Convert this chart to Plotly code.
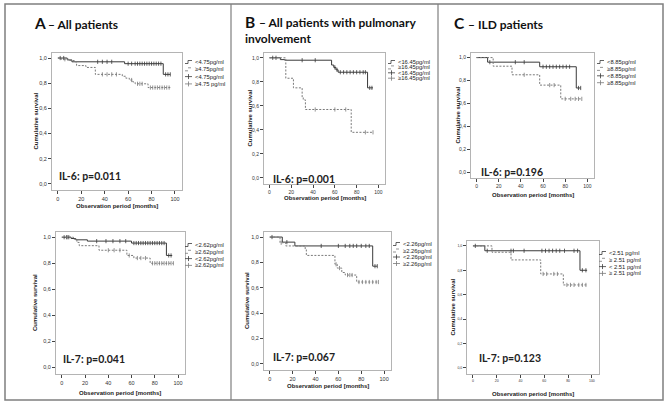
import plotly.graph_objects as go

W, H = 668, 407

# ---- Kaplan-Meier curves (time in months, cumulative survival) ----
# A: all patients, IL-6 (cut-off 4.75 pg/ml)
a6_lo_t = [0, 8, 12, 57, 90, 96]
a6_lo_s = [1.0, 0.985, 0.97, 0.955, 0.87, 0.87]
a6_lo_cens = [2, 5, 34, 38, 42, 46, 60, 63, 66, 68, 70, 72, 74, 76, 78, 80, 82, 84, 86, 88, 92, 94, 96]
a6_hi_t = [0, 3, 10, 14, 16, 24, 32, 55, 58, 61, 64, 66, 77, 96]
a6_hi_s = [1.0, 0.99, 0.98, 0.97, 0.94, 0.925, 0.87, 0.855, 0.84, 0.825, 0.81, 0.795, 0.765, 0.765]
a6_hi_cens = [6, 38, 42, 46, 50, 63, 68, 70, 72, 79, 81, 83, 85, 87, 89, 91, 93, 95]

# A: all patients, IL-7 (cut-off 2.62 pg/ml)
a7_lo_t = [0, 8, 12, 22, 60, 90, 95]
a7_lo_s = [1.0, 0.99, 0.98, 0.97, 0.955, 0.86, 0.86]
a7_lo_cens = [2, 4, 6, 30, 38, 44, 50, 55, 62, 64, 66, 68, 70, 72, 74, 76, 78, 80, 82, 84, 86, 88, 92, 94]
a7_hi_t = [0, 10, 13, 15, 32, 56, 62, 76, 96]
a7_hi_s = [1.0, 0.985, 0.96, 0.935, 0.90, 0.86, 0.84, 0.80, 0.80]
a7_hi_cens = [5, 40, 45, 50, 58, 65, 68, 72, 78, 80, 82, 84, 86, 88, 90, 92, 94, 96]

# B: pulmonary involvement, IL-6 (cut-off 16.45 pg/ml)
b6_lo_t = [0, 10, 14, 57, 59, 61, 63, 90, 95]
b6_lo_s = [1.0, 0.985, 0.98, 0.94, 0.92, 0.90, 0.88, 0.75, 0.75]
b6_lo_cens = [3, 6, 30, 42, 60, 62, 65, 68, 71, 74, 77, 80, 83, 86, 88, 92, 94]
b6_hi_t = [0, 15, 22, 30, 31, 33, 75, 95]
b6_hi_s = [1.0, 0.83, 0.75, 0.67, 0.65, 0.57, 0.38, 0.38]
b6_hi_cens = [42, 60, 70, 88, 95]

# B: pulmonary involvement, IL-7 (cut-off 2.26 pg/ml)
b7_lo_t = [0, 11, 22, 90, 94]
b7_lo_s = [1.0, 0.96, 0.93, 0.77, 0.77]
b7_lo_cens = [2, 15, 45, 60, 66, 70, 73, 76, 80, 84, 87, 92, 94]
b7_hi_t = [0, 9, 14, 31, 32, 57, 59, 63, 66, 76, 95]
b7_hi_s = [1.0, 0.955, 0.93, 0.90, 0.855, 0.785, 0.755, 0.72, 0.70, 0.645, 0.645]
b7_hi_cens = [10, 58, 61, 68, 70, 72, 78, 81, 84, 87, 90, 93, 95]

# C: ILD patients, IL-6 (cut-off 8.85 pg/ml)
c6_lo_t = [0, 10, 57, 90, 94]
c6_lo_s = [1.0, 0.96, 0.92, 0.735, 0.735]
c6_lo_cens = [12, 35, 43, 60, 63, 66, 69, 72, 75, 78, 81, 84, 92, 94]
c6_hi_t = [0, 15, 32, 57, 76, 95]
c6_hi_s = [1.0, 0.925, 0.85, 0.76, 0.64, 0.64]
c6_hi_cens = [43, 66, 70, 80, 85, 89, 92, 95]

# C: ILD patients, IL-7 (cut-off 2.51 pg/ml)
c7_lo_t = [0, 10, 90, 96]
c7_lo_s = [1.0, 0.96, 0.80, 0.80]
c7_lo_cens = [2, 12, 32, 34, 43, 58, 61, 64, 67, 70, 73, 77, 85, 88, 92, 95]
c7_hi_t = [0, 16, 32, 57, 76, 96]
c7_hi_s = [1.0, 0.948, 0.885, 0.77, 0.68, 0.68]
c7_hi_cens = [59, 62, 68, 71, 79, 82, 85, 89, 92, 95]

# legend labels
a6_labels = ["&lt;4.75pg/ml", "\u22654.75pg/ml", "&lt;4.75pg/ml", "\u22654.75 pg/ml"]
a7_labels = ["&lt;2.62pg/ml", "\u22652.62pg/ml", "&lt;2.62pg/ml", "\u22652.62pg/ml"]
b6_labels = ["&lt;16.45pg/ml", "\u226516.45pg/ml", "&lt;16.45pg/ml", "\u226516.45pg/ml"]
b7_labels = ["&lt;2.26pg/ml", "\u22652.26pg/ml", "&lt;2.26pg/ml", "\u22652.26pg/ml"]
c6_labels = ["&lt;8.85pg/ml", "\u22658.85pg/ml", "&lt;8.85pg/ml", "\u22658.85pg/ml"]
c7_labels = ["&lt;2.51 pg/ml", "\u2265 2.51 pg/ml", "&lt; 2.51 pg/ml", "\u2265 2.51 pg/ml"]

p_texts = ["IL-6: p=0.011", "IL-7: p=0.041", "IL-6: p=0.001",
           "IL-7: p=0.067", "IL-6: p=0.196", "IL-7: p=0.123"]

x_ticks = [0, 20, 40, 60, 80, 100]
y_ticks = [0, 0.2, 0.4, 0.6, 0.8, 1.0]
y_ticktext = ["0,0", "0,2", "0,4", "0,6", "0,8", "1,0"]

# panel geometry in pixels: plot box, legend, p-text, axis titles
panels = [
    dict(curves=(a6_lo_t, a6_lo_s, a6_lo_cens, a6_hi_t, a6_hi_s, a6_hi_cens), labels=a6_labels,
         box=(52, 53, 182, 190), leg=(185, 62, 7.3), ptxt=(57, 176), ytit=35, xtit=(117, 206), tick=5.5),
    dict(curves=(a7_lo_t, a7_lo_s, a7_lo_cens, a7_hi_t, a7_hi_s, a7_hi_cens), labels=a7_labels,
         box=(56, 232, 185, 374), leg=(185, 245, 6.8), ptxt=(61, 359), ytit=35, xtit=(120, 393), tick=5.5),
    dict(curves=(b6_lo_t, b6_lo_s, b6_lo_cens, b6_hi_t, b6_hi_s, b6_hi_cens), labels=b6_labels,
         box=(264, 53, 385, 184), leg=(388, 62, 5.4), ptxt=(271, 179), ytit=249, xtit=(325, 198), tick=5),
    dict(curves=(b7_lo_t, b7_lo_s, b7_lo_cens, b7_hi_t, b7_hi_s, b7_hi_cens), labels=b7_labels,
         box=(264, 232, 391, 370), leg=(393, 244, 6.5), ptxt=(271, 357), ytit=247, xtit=(328, 386), tick=5.5),
    dict(curves=(c6_lo_t, c6_lo_s, c6_lo_cens, c6_hi_t, c6_hi_s, c6_hi_cens), labels=c6_labels,
         box=(471, 53, 594, 178), leg=(597, 62, 6.9), ptxt=(479, 172), ytit=457, xtit=(533, 195), tick=5),
    dict(curves=(c7_lo_t, c7_lo_s, c7_lo_cens, c7_hi_t, c7_hi_s, c7_hi_cens), labels=c7_labels,
         box=(467, 241, 599, 374), leg=(599, 253, 6.8), ptxt=(477, 358), ytit=452, xtit=(533, 394), tick=3.5),
]

X_RANGE = [-5, 106]
Y_RANGE = [-0.05, 1.04]
SOLID = "#3a3a3a"
DASHED = "#7a7a7a"


def px(x):
    return x / W


def py(y):
    return 1 - y / H


def surv_at(ts, ss, c):
    v = ss[0]
    for t, s in zip(ts, ss):
        if t <= c:
            v = s
    return v


def note(x, y, text, size, family="Arial", xanchor="left", angle=0, color="#222"):
    return dict(x=px(x), y=py(y), xref="paper", yref="paper", text=text, showarrow=False,
                xanchor=xanchor, yanchor="middle", textangle=angle,
                font=dict(family=family, size=size, color=color))


fig = go.Figure()
shapes = []
annotations = []
layout_axes = {}

for i, p in enumerate(panels):
    n = "" if i == 0 else str(i + 1)
    xa, ya = "x" + n, "y" + n
    lo_t, lo_s, lo_c, hi_t, hi_s, hi_c = p["curves"]
    for ts, ss, cs, col, dash in [(lo_t, lo_s, lo_c, SOLID, "solid"),
                                  (hi_t, hi_s, hi_c, DASHED, "2px,1.5px")]:
        fig.add_trace(go.Scatter(x=ts, y=ss, mode="lines", line=dict(color=col, width=1, dash=dash, shape="hv"),
                                 xaxis=xa, yaxis=ya, showlegend=False, hoverinfo="skip"))
        fig.add_trace(go.Scatter(x=cs, y=[surv_at(ts, ss, c) for c in cs], mode="markers",
                                 marker=dict(symbol="line-ns", size=3, line=dict(color=col, width=0.8)),
                                 xaxis=xa, yaxis=ya, showlegend=False, hoverinfo="skip"))

    l, t, r, b = p["box"]
    axstyle = dict(showline=True, mirror=True, linecolor="#b4b4b4", linewidth=1, showgrid=False,
                   zeroline=False, ticks="outside", ticklen=3, tickwidth=0.8, tickcolor="#444",
                   tickfont=dict(family="Arial", size=p["tick"], color="#333"))
    layout_axes["xaxis" + n] = dict(domain=[px(l), px(r)], range=X_RANGE, anchor=ya,
                                    tickvals=x_ticks, **axstyle)
    layout_axes["yaxis" + n] = dict(domain=[py(b), py(t)], range=Y_RANGE, anchor=xa,
                                    tickvals=y_ticks, ticktext=y_ticktext, **axstyle)

    # axis titles
    annotations.append(note(p["ytit"], (t + b) / 2, "<b>Cumulative survival</b>", 6,
                            xanchor="center", angle=-90))
    annotations.append(note(p["xtit"][0], p["xtit"][1], "<b>Observation period [months]</b>", 6,
                            xanchor="center"))
    # p-value
    annotations.append(note(p["ptxt"][0], p["ptxt"][1], "<b>" + p_texts[i] + "</b>", 10.5, family="Lato"))
    # legend
    sx, y0, dy = p["leg"]
    for k, lab in enumerate(p["labels"]):
        yy = y0 + k * dy
        if k < 2:
            path = "M{},{} H{} V{} H{}".format(px(sx), py(yy + 1.5), px(sx + 3), py(yy - 1.5), px(sx + 7))
            shapes.append(dict(type="path", path=path, xref="paper", yref="paper",
                               line=dict(color=SOLID if k == 0 else DASHED, width=0.8,
                                         dash="solid" if k == 0 else "dot")))
        else:
            col = SOLID if k == 2 else DASHED
            shapes.append(dict(type="line", x0=px(sx), x1=px(sx + 7), y0=py(yy), y1=py(yy),
                               xref="paper", yref="paper", line=dict(color=col, width=0.8)))
            shapes.append(dict(type="line", x0=px(sx + 3.5), x1=px(sx + 3.5), y0=py(yy - 2.5), y1=py(yy + 2.5),
                               xref="paper", yref="paper", line=dict(color=col, width=0.8)))
        annotations.append(note(sx + 7.5, yy, lab, 5.8))

# panel headings
headings = [(32, 23, "A", "\u2013 All patients"),
            (243, 22, "B", "\u2013 All patients with pulmonary"),
            (452, 23, "C", "\u2013 ILD patients")]
for hx, hy, letter, rest in headings:
    annotations.append(note(hx, hy, "<b>" + letter + "</b>", 15.5, family="Lato", color="#111"))
    annotations.append(note(hx + 14, hy + 1, "<b>" + rest + "</b>", 12, family="Lato", color="#111"))
annotations.append(note(243, 38, "<b>involvement</b>", 12, family="Lato", color="#111"))

# outer frame and column separators
shapes.append(dict(type="rect", x0=px(5), x1=px(663), y0=py(4), y1=py(400), xref="paper", yref="paper",
                   line=dict(color="#7f7f7f", width=1.5)))
for sxp in [231, 438]:
    shapes.append(dict(type="line", x0=px(sxp), x1=px(sxp), y0=py(4), y1=py(400), xref="paper", yref="paper",
                       line=dict(color="#7f7f7f", width=1.2)))

fig.update_layout(width=W, height=H, margin=dict(l=0, r=0, t=0, b=0), paper_bgcolor="white",
                  plot_bgcolor="white", shapes=shapes, annotations=annotations, **layout_axes)

# drop the browser's default page margin so the figure sits at the window's corner
fig.write_html("out.html", config={"displayModeBar": False},
               post_script="document.body.style.margin='0';")
